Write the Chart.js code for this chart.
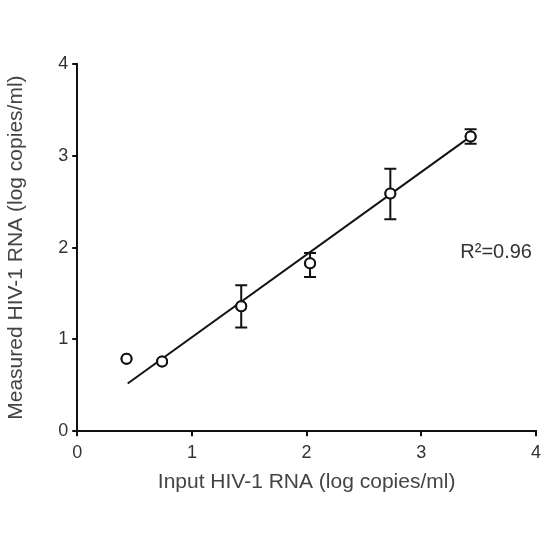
<!DOCTYPE html>
<html>
<head>
<meta charset="utf-8">
<script src="https://cdn.jsdelivr.net/npm/chart.js@4/dist/chart.umd.min.js"></script>
<style>
  html, body { margin: 0; padding: 0; background: #fff; }
  #wrap { width: 550px; height: 550px; }
</style>
</head>
<body>
<div id="wrap"><canvas id="chart"></canvas></div>
<script>
// Measured vs input, log copies/ml
const inputLog = [0.43, 0.74, 1.43, 2.03, 2.73, 3.43];
const measuredLog = [0.79, 0.76, 1.36, 1.83, 2.59, 3.21];
const errLow = [null, null, 1.13, 1.68, 2.31, 3.13];
const errHigh = [null, null, 1.59, 1.94, 2.86, 3.29];

// regression line end points
const fitX = [0.44, 3.44];
const fitY = [0.52, 3.22];

const r2Label = "R\u00b2=0.96";
const r2At = { x: 3.965, y: 1.95 };

const fontFamily = "'Liberation Sans', Arial, sans-serif";
const tickFont = { family: fontFamily, size: 18 };
const titleFont = { family: fontFamily, size: 21 };
const textColor = '#333';

// draws the vertical error bars with caps
const errorBars = {
    id: 'errorBars',
    afterDatasetsDraw(chart) {
        const ctx = chart.ctx;
        const xs = chart.scales.x, ys = chart.scales.y;
        ctx.save();
        ctx.strokeStyle = '#111';
        ctx.lineWidth = 2;
        for (let i = 0; i < inputLog.length; i++) {
            if (errLow[i] == null) continue;
            const px = xs.getPixelForValue(inputLog[i]);
            const top = ys.getPixelForValue(errHigh[i]);
            const bot = ys.getPixelForValue(errLow[i]);
            ctx.beginPath();
            ctx.moveTo(px, top); ctx.lineTo(px, bot);
            ctx.moveTo(px - 6, top); ctx.lineTo(px + 6, top);
            ctx.moveTo(px - 6, bot); ctx.lineTo(px + 6, bot);
            ctx.stroke();
        }
        // redraw points on top so bars sit behind the circles
        const meta = chart.getDatasetMeta(0);
        meta.data.forEach(p => p.draw(ctx));
        ctx.restore();
    }
};

const r2Text = {
    id: 'r2Text',
    afterDraw(chart) {
        const ctx = chart.ctx;
        ctx.save();
        ctx.font = "20px " + fontFamily;
        ctx.fillStyle = textColor;
        ctx.textAlign = 'right';
        ctx.textBaseline = 'middle';
        ctx.fillText(r2Label, chart.scales.x.getPixelForValue(r2At.x), chart.scales.y.getPixelForValue(r2At.y));
        ctx.restore();
    }
};

const ctx = document.getElementById('chart').getContext('2d');
const chart = new Chart(ctx, {
    type: 'scatter',
    data: {
        datasets: [
        {
            label: 'Measured',
            data: inputLog.map((x, i) => ({ x: x, y: measuredLog[i] })),
            pointRadius: 5,
            pointBackgroundColor: '#fff',
            pointBorderColor: '#111',
            pointBorderWidth: 2,
            order: 1
        },
        {
            label: 'Fit',
            type: 'line',
            data: fitX.map((x, i) => ({ x: x, y: fitY[i] })),
            borderColor: '#111',
            borderWidth: 2,
            pointRadius: 0,
            fill: false,
            order: 2
        }
    ]
    },
    options: {
        responsive: true,
        maintainAspectRatio: false,
        animation: false,
        layout: { padding: { left: 4, right: 14, top: 64, bottom: 55 } },
        plugins: {
            legend: { display: false },
            tooltip: { enabled: false }
        },
        scales: {
            x: {
                type: 'linear', min: 0, max: 4,
                ticks: { stepSize: 1, color: textColor, font: tickFont, padding: 6 },
                grid: { drawOnChartArea: false, drawTicks: true, tickLength: 5, color: '#111', lineWidth: 2 },
                border: { color: '#111', width: 2 },
                title: { display: true, text: 'Input HIV-1 RNA (log copies/ml)', color: '#444', font: titleFont, padding: { top: 0, bottom: 0 } }
            },
            y: {
                type: 'linear', min: 0, max: 4,
                ticks: { stepSize: 1, color: textColor, font: tickFont, padding: 4 },
                grid: { drawOnChartArea: false, drawTicks: true, tickLength: 5, color: '#111', lineWidth: 2 },
                border: { color: '#111', width: 2 },
                title: { display: true, text: 'Measured HIV-1 RNA (log copies/ml)', color: '#444', font: titleFont, padding: { top: 0, bottom: 25 } }
            }
        }
    },
    plugins: [errorBars, r2Text]
});
</script>
</body>
</html>
